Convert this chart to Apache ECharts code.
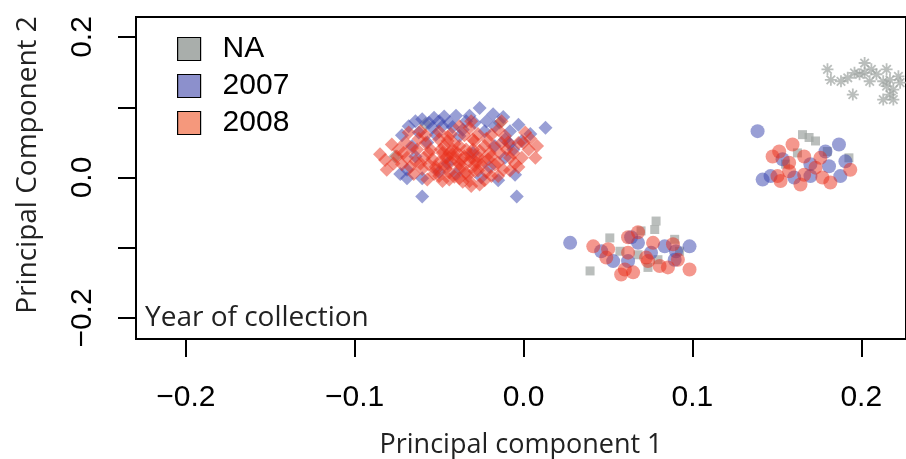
<!DOCTYPE html>
<html>
<head>
<meta charset="utf-8">
<script src="https://cdn.jsdelivr.net/npm/echarts@6/dist/echarts.min.js"></script>
<style>
html, body { margin: 0; padding: 0; background: #fff; }
#chartBox { width: 906px; height: 459px; }
</style>
</head>
<body>
<div id="chartBox"></div>
<script>
// 图例分组
var groupNames = ['NA', '2007', '2008'];
var xTicks = [-0.2, -0.1, 0.0, 0.1, 0.2];
var yTicks = [-0.2, -0.1, 0.0, 0.1, 0.2];
var yLabels = [-0.2, 0.0, 0.2];

// 菱形 (左侧大簇)
var dia2007 = [
    [-0.026, 0.099], [-0.018, 0.090], [-0.060, 0.083], [-0.053, 0.085], [-0.047, 0.087],
    [-0.040, 0.088], [-0.034, 0.080], [-0.017, 0.073], [-0.068, 0.073], [-0.054, 0.071],
    [-0.048, 0.073], [-0.023, 0.066], [-0.008, 0.066], [0.013, 0.071], [-0.001, 0.052],
    [-0.017, 0.045], [-0.006, 0.040], [-0.069, 0.011], [-0.005, 0.004], [-0.069, -0.001],
    [-0.060, -0.001], [-0.004, -0.027], [-0.060, -0.027], [-0.038, 0.059], [-0.052, 0.061],
    [-0.044, 0.078], [-0.029, 0.078], [-0.062, 0.064], [-0.011, 0.054], [-0.036, 0.068],
    [-0.057, 0.050], [-0.030, 0.035], [-0.045, 0.020], [-0.020, 0.015], [-0.064, 0.030],
    [-0.011, 0.028], [-0.025, 0.000], [-0.040, 0.005], [-0.064, 0.080], [-0.056, 0.078],
    [-0.050, 0.080], [-0.042, 0.072], [-0.032, 0.088], [-0.022, 0.080], [-0.012, 0.086],
    [-0.003, 0.075], [-0.072, 0.060], [-0.066, 0.045], [-0.008, 0.048], [0.004, 0.062],
    [-0.073, 0.005], [-0.050, 0.008], [-0.015, -0.004]
];
var dia2008 = [
    [-0.085, 0.033], [-0.081, 0.011], [-0.078, 0.047], [-0.074, 0.040], [-0.068, 0.064],
    [-0.061, 0.066], [-0.066, 0.042], [-0.058, 0.049], [-0.050, 0.054], [-0.045, 0.052],
    [-0.038, 0.073], [-0.032, 0.071], [-0.031, 0.080], [-0.013, 0.080], [-0.019, 0.061],
    [-0.011, 0.059], [0.001, 0.064], [-0.003, 0.049], [0.008, 0.045], [0.007, 0.028],
    [-0.001, 0.028], [-0.038, 0.045], [-0.030, 0.054], [-0.029, 0.052], [-0.023, 0.045],
    [-0.013, 0.049], [-0.056, 0.035], [-0.048, 0.035], [-0.042, 0.033], [-0.072, 0.019],
    [-0.064, 0.023], [-0.054, 0.026], [-0.046, 0.028], [-0.038, 0.019], [-0.032, 0.023],
    [-0.027, 0.030], [-0.021, 0.026], [-0.015, 0.021], [-0.008, 0.028], [-0.012, 0.011],
    [-0.052, 0.011], [-0.044, 0.007], [-0.029, 0.009], [-0.034, 0.007], [-0.057, -0.003],
    [-0.048, -0.005], [-0.044, -0.003], [-0.038, -0.001], [-0.031, -0.012], [-0.026, -0.010],
    [-0.019, 0.002], [-0.015, 0.002], [-0.032, -0.005], [-0.045, 0.030], [-0.040, 0.025],
    [-0.028, 0.022], [-0.025, 0.018], [-0.050, 0.022], [-0.035, 0.030], [-0.042, 0.040],
    [-0.030, 0.040], [-0.020, 0.035], [-0.055, 0.040], [-0.047, 0.045], [-0.027, 0.010],
    [-0.038, 0.012], [-0.052, 0.015], [-0.033, 0.003], [-0.060, 0.012], [-0.018, 0.045],
    [-0.010, 0.040], [-0.005, 0.020], [-0.062, 0.055], [-0.070, 0.050], [-0.075, 0.030],
    [-0.065, 0.005], [-0.022, 0.055], [-0.035, 0.060], [-0.043, 0.062], [-0.050, 0.065],
    [-0.015, 0.068], [-0.008, 0.010], [0.003, 0.040], [0.000, 0.050], [-0.082, 0.025],
    [-0.077, 0.020], [-0.071, 0.035], [-0.067, 0.015], [-0.063, 0.040], [-0.059, 0.028],
    [-0.056, 0.018], [-0.053, 0.005], [-0.049, 0.040], [-0.046, 0.013], [-0.043, 0.022],
    [-0.041, 0.048], [-0.039, 0.035], [-0.036, 0.015], [-0.034, 0.040], [-0.031, 0.028],
    [-0.029, 0.017], [-0.026, 0.038], [-0.024, 0.025], [-0.022, 0.008], [-0.019, 0.030],
    [-0.017, 0.018], [-0.014, 0.035], [-0.009, 0.050], [-0.006, 0.035], [-0.003, 0.015],
    [0.004, 0.055], [-0.058, 0.060], [-0.045, 0.058], [-0.027, 0.062], [-0.041, 0.001],
    [-0.050, 0.002], [-0.036, -0.006], [-0.023, -0.004], [-0.061, 0.020], [-0.069, 0.028],
    [-0.044, 0.035], [-0.032, 0.033], [-0.037, 0.025], [-0.047, 0.018]
];
var diaNA = [[-0.076, 0.030], [-0.014, 0.078], [-0.058, 0.076]];

// 圆点 (中间和右侧两簇)
var circ2007 = [
    [0.0276, -0.093], [0.0983, -0.098], [0.0637, -0.085], [0.0678, -0.093], [0.0836, -0.098],
    [0.0619, -0.119], [0.0531, -0.119], [0.0895, -0.117], [0.0460, -0.105], [0.0755, -0.107],
    [0.0903, -0.105],
    [0.1386, 0.066], [0.1868, 0.047], [0.1788, 0.037], [0.1699, 0.019], [0.1809, 0.016],
    [0.1906, 0.023], [0.1876, 0.002], [0.1416, -0.003], [0.1463, 0.002], [0.1603, 0.000],
    [0.1699, 0.002], [0.1534, 0.026]
];
var circ2008 = [
    [0.0413, -0.098], [0.0501, -0.102], [0.0490, -0.114], [0.0678, -0.078], [0.0619, -0.085],
    [0.0767, -0.093], [0.0885, -0.095], [0.0726, -0.114], [0.0806, -0.126], [0.0855, -0.128],
    [0.0983, -0.131], [0.0578, -0.138], [0.0649, -0.135], [0.0600, -0.131], [0.0737, -0.119],
    [0.0619, -0.107], [0.0914, -0.117],
    [0.1593, 0.047], [0.1475, 0.030], [0.1514, 0.037], [0.1662, 0.030], [0.1573, 0.021],
    [0.1758, 0.028], [0.1729, 0.014], [0.1573, 0.009], [0.1504, 0.002], [0.1522, -0.005],
    [0.1640, -0.010], [0.1770, 0.000], [0.1817, -0.007], [0.1935, 0.011], [0.1662, 0.004]
];

// 方块 (NA)
var sqNA = [
    [0.0394, -0.133], [0.0511, -0.086], [0.0571, -0.105], [0.0696, -0.076], [0.0785, -0.062],
    [0.0777, -0.074], [0.0895, -0.088], [0.0924, -0.105], [0.0737, -0.128], [0.0678, -0.110],
    [0.0796, -0.117],
    [0.1652, 0.061], [0.1691, 0.057], [0.1729, 0.052], [0.1622, 0.035], [0.1927, 0.028],
    [0.1552, 0.019], [0.1799, 0.037]
];

// 星号 (NA, 右上)
var starNA = [
    [0.180, 0.154], [0.182, 0.139], [0.188, 0.137], [0.192, 0.142], [0.196, 0.149],
    [0.202, 0.163], [0.202, 0.149], [0.206, 0.154], [0.205, 0.137], [0.195, 0.118],
    [0.215, 0.154], [0.213, 0.137], [0.217, 0.139], [0.215, 0.130], [0.219, 0.125],
    [0.213, 0.111], [0.219, 0.111], [0.222, 0.144], [0.199, 0.147], [0.209, 0.147],
    [0.217, 0.118], [0.223, 0.135]
];

var colors = {
    'NA': 'rgba(160,165,162,0.9)',
    '2007': 'rgba(60,70,175,0.65)',
    '2008': 'rgba(232,45,25,0.62)'
};
var legendColors = {'NA': '#a9aeab', '2007': '#8c90cc', '2008': '#f5987c'};
var starPath = 'path://M8.5,0L11.5,0L11.5,20L8.5,20Z M0,8.5L20,8.5L20,11.5L0,11.5Z ' +
    'M16.01,1.87L18.13,3.99L3.99,18.13L1.87,16.01Z M1.87,3.99L3.99,1.87L18.13,16.01L16.01,18.13Z';

var tickFont = '"Liberation Sans", Arial, Helvetica, sans-serif';
var titleFont = '"Open Sans", "Noto Sans", sans-serif';

function fmt(v){
    var s = Math.abs(v).toFixed(1);
    return v < -1e-9 ? '\u2212' + s : s;
}

function scatter(name, data, symbol, size){
    return {
        name: name,
        type: 'scatter',
        data: data,
        symbol: symbol,
        symbolSize: size,
        itemStyle: { color: colors[name] },
        silent: true,
        emphasis: { disabled: true }
    };
}

function getParams(){
    return {
        animation: false,
        backgroundColor: '#fff',
        grid: {
            left: 136, top: 17, width: 773, height: 322,
            show: true, borderColor: '#000', borderWidth: 2
        },
        legend: {
            orient: 'vertical',
            left: 172, top: 29,
            itemWidth: 23, itemHeight: 23, itemGap: 7,
            icon: 'rect',
            selectedMode: false,
            textStyle: { fontFamily: tickFont, fontSize: 30, color: '#000', padding: [0, 0, 0, 17] },
            data: groupNames.map(function(n){
                return { name: n, itemStyle: { color: legendColors[n], borderColor: '#000', borderWidth: 1.2, opacity: 1 } };
            })
        },
        xAxis: {
            type: 'value', min: -0.2295, max: 0.2265,
            splitLine: { show: false },
            axisLine: { show: false, onZero: false },
            axisTick: { show: true, inside: false, length: 18, customValues: xTicks, lineStyle: { color: '#000', width: 2 } },
            axisLabel: { customValues: xTicks, formatter: fmt, margin: 44, fontFamily: tickFont, fontSize: 30, color: '#000' }
        },
        yAxis: {
            type: 'value', min: -0.2299, max: 0.2285,
            splitLine: { show: false },
            axisLine: { show: false, onZero: false },
            axisTick: { show: true, inside: false, length: 18, customValues: yTicks, lineStyle: { color: '#000', width: 2 } },
            axisLabel: { customValues: yLabels, formatter: fmt, rotate: 90, margin: 38, fontFamily: tickFont, fontSize: 30, color: '#000' }
        },
        graphic: [
            { type: 'text', left: 145, top: 304, style: { text: 'Year of collection', font: '28px ' + titleFont, fill: '#222' } },
            { type: 'text', x: 521, y: 445, style: { text: 'Principal component 1', font: '27px ' + titleFont, fill: '#222', align: 'center', verticalAlign: 'middle' } },
            { type: 'text', x: 28, y: 165, rotation: Math.PI / 2, style: { text: 'Principal Component 2', font: '28px ' + titleFont, fill: '#222', align: 'center', verticalAlign: 'middle' } }
        ],
        series: [
            scatter('NA', sqNA, 'rect', 9),
            scatter('NA', starNA, starPath, 12),
            scatter('NA', diaNA, 'diamond', 14),
            scatter('2007', dia2007, 'diamond', 14),
            scatter('2007', circ2007, 'circle', 14),
            scatter('2008', dia2008, 'diamond', 14),
            scatter('2008', circ2008, 'circle', 14)
        ]
    };
}

var chart = echarts.init(document.getElementById('chartBox'));
chart.setOption(getParams());
</script>
</body>
</html>
